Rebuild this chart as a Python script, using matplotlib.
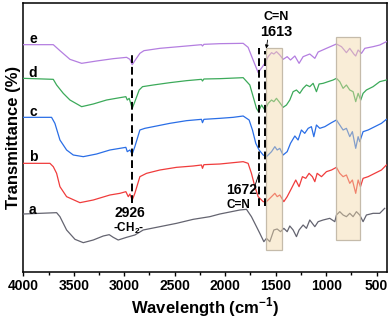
import matplotlib
matplotlib.use("Agg")
import matplotlib.pyplot as plt
from matplotlib.patches import Rectangle

plt.rcParams['font.family'] = ['Liberation Sans', 'DejaVu Sans']
plt.rcParams['mathtext.fontset'] = 'custom'
plt.rcParams['mathtext.rm'] = 'Liberation Sans:bold'
plt.rcParams['mathtext.bf'] = 'Liberation Sans:bold'

# FTIR spectra, offset transmittance (arbitrary units)
e_wn = [4000, 3703, 3637, 3538, 3422, 3274, 3109, 2977, 2944, 2921, 2895, 2845, 2805, 2647, 2383, 2235, 2225, 2211,
        2053, 1822, 1773, 1730, 1697, 1673, 1650, 1607, 1574, 1541, 1518, 1492, 1459, 1426, 1386, 1353, 1310, 1268,
        1228, 1162, 1112, 1079, 997, 898, 848, 799, 766, 726, 707, 683, 650, 617, 535, 469, 403]
e_t = [682, 682, 664, 638, 626, 633, 640, 644, 638, 622, 634, 656, 664, 671, 678, 682, 678, 683,
       685, 686, 674, 641, 616, 598, 608, 626, 646, 658, 654, 661, 651, 638, 646, 636, 648, 626,
       646, 654, 641, 660, 671, 684, 676, 658, 671, 654, 648, 666, 656, 671, 676, 681, 691]

d_wn = [4000, 3703, 3670, 3604, 3538, 3422, 3307, 3175, 3043, 2984, 2970, 2951, 2921, 2895, 2852, 2819, 2713, 2548,
        2383, 2235, 2225, 2211, 2053, 1822, 1756, 1723, 1690, 1670, 1640, 1607, 1574, 1541, 1518, 1492, 1459, 1426,
        1393, 1360, 1327, 1294, 1261, 1228, 1195, 1162, 1129, 1096, 1070, 1030, 981, 931, 898, 865, 832, 799, 766,
        733, 707, 683, 657, 634, 601, 535, 469, 403]
d_t = [581, 578, 561, 536, 516, 496, 504, 516, 523, 526, 516, 521, 491, 511, 546, 556, 561, 568,
       574, 578, 573, 579, 580, 583, 561, 526, 491, 481, 501, 486, 506, 516, 511, 521, 508, 494,
       501, 516, 541, 546, 536, 551, 561, 556, 566, 541, 564, 566, 571, 576, 581, 571, 551, 561, 546,
       541, 511, 536, 516, 536, 546, 556, 571, 576]

c_wn = [4000, 3720, 3687, 3637, 3571, 3505, 3406, 3274, 3142, 3043, 2984, 2970, 2944, 2921, 2895, 2845, 2796, 2713,
        2548, 2383, 2235, 2225, 2211, 2053, 1921, 1822, 1763, 1730, 1697, 1664, 1624, 1591, 1541, 1508, 1485, 1459,
        1426, 1386, 1353, 1310, 1278, 1245, 1212, 1178, 1146, 1122, 1096, 1063, 1013, 947, 898, 865, 832, 799, 766,
        740, 707, 683, 667, 634, 584, 518, 452, 403]
c_t = [464, 464, 446, 396, 366, 351, 346, 354, 366, 371, 374, 361, 366, 354, 376, 426, 431, 436,
       446, 454, 458, 448, 458, 461, 464, 468, 456, 426, 386, 366, 351, 346, 361, 376, 366, 371,
       351, 361, 386, 408, 396, 426, 416, 431, 436, 406, 441, 431, 436, 448, 456, 441, 426, 431, 406,
       421, 371, 406, 391, 421, 426, 436, 446, 458]

b_wn = [4000, 3736, 3703, 3670, 3637, 3571, 3439, 3307, 3142, 3043, 2984, 2960, 2944, 2921, 2895, 2845, 2779, 2647,
        2482, 2317, 2235, 2225, 2211, 2053, 1822, 1773, 1740, 1706, 1673, 1624, 1591, 1541, 1508, 1485, 1459, 1419,
        1386, 1343, 1301, 1268, 1235, 1202, 1169, 1136, 1112, 1089, 1046, 997, 947, 898, 865, 832, 799, 766, 740,
        707, 683, 660, 634, 584, 518, 452, 403]
b_t = [326, 326, 316, 296, 256, 226, 208, 216, 231, 236, 241, 226, 234, 216, 236, 286, 296, 306,
       314, 318, 321, 311, 322, 324, 331, 326, 296, 256, 226, 211, 211, 226, 236, 226, 231, 211,
       226, 251, 276, 256, 286, 281, 296, 286, 271, 296, 286, 301, 306, 314, 296, 286, 291, 266, 276,
       236, 276, 256, 281, 286, 296, 306, 321]

a_wn = [4000, 3835, 3670, 3637, 3571, 3488, 3406, 3307, 3208, 3149, 3109, 3060, 2977, 2895, 2812, 2647, 2482, 2317,
        2152, 2053, 1855, 1789, 1740, 1690, 1657, 1617, 1591, 1558, 1518, 1485, 1452, 1419, 1386, 1360, 1327, 1294,
        1268, 1228, 1195, 1162, 1112, 1079, 1030, 964, 914, 898, 865, 832, 799, 766, 733, 700, 667, 634, 601,
        535, 469, 420]
a_t = [174, 176, 178, 166, 126, 98, 88, 96, 108, 112, 104, 96, 104, 111, 126, 136, 146, 158,
       166, 174, 186, 188, 166, 136, 116, 91, 101, 91, 126, 129, 121, 131, 121, 138, 126, 106,
       126, 141, 131, 156, 136, 151, 156, 161, 151, 171, 181, 171, 166, 176, 166, 181, 171, 151, 171,
       176, 176, 191]

series = [
    ('a', a_wn, a_t, '#646470', 186),
    ('b', b_wn, b_t, '#f03c3c', 346),
    ('c', c_wn, c_t, '#2a6ee6', 481),
    ('d', d_wn, d_t, '#3caa5a', 597),
    ('e', e_wn, e_t, '#b47ee0', 698),
]

# highlighted bands (wavenumber span, vertical extent)
bands = [(1591, 1442, 66, 671), (898, 660, 96, 704)]

fig = plt.figure(figsize=(3.9, 3.18), dpi=100)
ax = fig.add_axes([23.3 / 390, 46 / 318, 363.4 / 390, 269 / 318])

for name, wn, t, col, ly in series:
    ax.plot(wn, t, color=col, lw=0.9, zorder=3)
    ax.text(3905, ly, name, fontsize=10, fontweight='bold', ha='center', va='center', zorder=6)

for x0, x1, y0, y1 in bands:
    ax.add_patch(Rectangle((x1, y0), x0 - x1, y1 - y0, facecolor=(0.95, 0.85, 0.66, 0.45),
                           edgecolor=(0.75, 0.71, 0.64, 0.9), lw=0.9, zorder=4))

dash = dict(color='black', lw=1.4, ls=(0, (4, 2)), zorder=5)
ax.plot([2926, 2926], [206, 651], **dash)
ax.plot([1667, 1667], [198, 671], **dash)
ax.plot([1601, 1601], [198, 662], **dash)

ax.text(2943, 176, '2926', fontsize=10, fontweight='bold', ha='center', va='center')
ax.text(2960, 132, r'-CH$_2$-', fontsize=8.5, fontweight='bold', ha='center', va='center')
ax.text(1838, 246, '1672', fontsize=10, fontweight='bold', ha='center', va='center')
ax.text(1874, 202, 'C=N', fontsize=8.5, fontweight='bold', ha='center', va='center')
ax.plot([1706, 1662], [258, 298], color='black', lw=0.6, zorder=5)
ax.text(1490, 766, 'C=N', fontsize=9, fontweight='bold', ha='center', va='center')
ax.text(1490, 721, '1613', fontsize=10.5, fontweight='bold', ha='center', va='center')
ax.annotate('', xy=(1598, 662), xytext=(1575, 704),
            arrowprops=dict(arrowstyle='-|>', color='black', lw=0.6, mutation_scale=5), zorder=6)

ax.set_xlim(4000, 400)
ax.set_ylim(0, 807)
ax.set_xticks([4000, 3500, 3000, 2500, 2000, 1500, 1000, 500])
ax.set_xticks([3750, 3250, 2750, 2250, 1750, 1250, 750], minor=True)
ax.set_yticks([])
ax.tick_params(axis='x', which='major', direction='out', length=3, width=1, labelsize=10, pad=2)
ax.tick_params(axis='x', which='minor', direction='out', length=2, width=1)
for lab in ax.get_xticklabels():
    lab.set_fontweight('bold')
for s in ax.spines.values():
    s.set_linewidth(1.1)

ax.set_xlabel(r'Wavelength (cm$^{-1}$)', fontsize=12, fontweight='bold', labelpad=2)
ax.set_ylabel('Transmittance (%)', fontsize=12, fontweight='bold', labelpad=2)

fig.savefig('out.png', dpi=100)
